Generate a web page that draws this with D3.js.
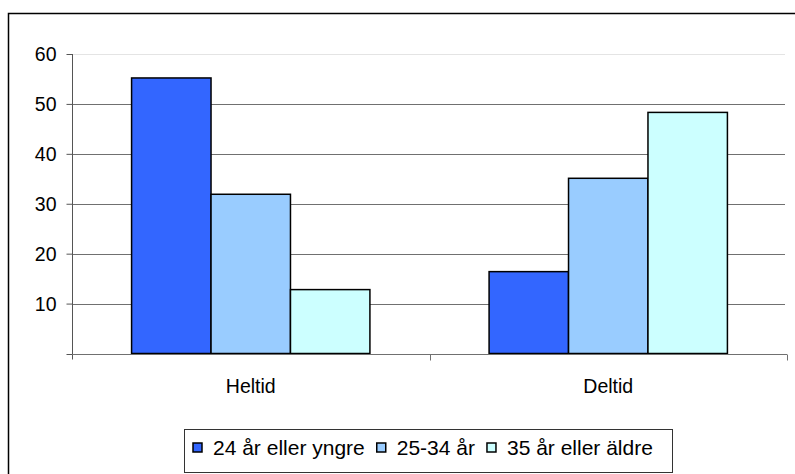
<!DOCTYPE html>
<meta charset="utf-8">
<style>
  html, body { margin: 0; background: #fff; overflow: hidden; }
  svg { display: block; }
  svg text { font-family: "Liberation Sans", Arial, sans-serif; fill: #000; }
</style>
<body>
<script src="https://cdn.jsdelivr.net/npm/d3@7"></script>
<script>
    var width = 795,
        height = 474;

    // data
    var categories = ["Heltid", "Deltid"];
    var series = ["24 år eller yngre", "25-34 år", "35 år eller äldre"];
    var young = [55.2, 16.4];
    var middle = [31.9, 35.1];
    var older = [12.8, 48.3];
    var yTicks = [10, 20, 30, 40, 50, 60];
    var colors = ["#3366ff", "#99ccff", "#ccffff"];

    var values = [young, middle, older];

    var plot = {left: 72, right: 787, top: 54, bottom: 353.5};

    var svg = d3.select("body").append("svg")
        .attr("width", width)
        .attr("height", height);

    // outer chart frame (right and bottom run off the picture)
    svg.append("rect")
        .attr("x", 8.5).attr("y", 13.5)
        .attr("width", 820).attr("height", 500)
        .attr("fill", "none")
        .attr("stroke", "#000")
        .attr("stroke-width", 1.5);

    var y = d3.scaleLinear().domain([0, 60]).range([plot.bottom, plot.top]);
    var x0 = d3.scaleBand().domain(categories).range([plot.left, plot.right]);
    // gap width 150%: band = 4.5 bar widths
    var bw = x0.bandwidth() / 4.5;
    var x1 = d3.scaleBand().domain(d3.range(series.length))
        .range([0.75 * bw, 3.75 * bw]);

    // gridlines
    svg.append("g")
        .selectAll("line")
        .data(yTicks)
        .enter().append("line")
        .attr("x1", plot.left).attr("x2", plot.right - 2)
        .attr("y1", d => Math.round(y(d)) + 0.5)
        .attr("y2", d => Math.round(y(d)) + 0.5)
        .attr("stroke", d => d === 60 ? "#e4e4e4" : "#707070")
        .attr("stroke-width", 1.2);

    // bars
    var groups = svg.append("g")
        .selectAll("g")
        .data(categories)
        .enter().append("g")
        .attr("transform", d => "translate(" + x0(d) + ",0)");

    groups.selectAll("rect")
        .data((c, i) => values.map((s, k) => ({k: k, v: s[i]})))
        .enter().append("rect")
        .attr("x", d => x1(d.k))
        .attr("width", x1.bandwidth())
        .attr("y", d => y(d.v))
        .attr("height", d => y(0) - y(d.v))
        .attr("fill", d => colors[d.k])
        .attr("stroke", "#000")
        .attr("stroke-width", 1.5);

    // y axis
    var yAxis = svg.append("g")
        .attr("transform", "translate(" + (plot.left + 0.5) + ",0)")
        .call(d3.axisLeft(y).tickValues(yTicks).tickSize(6).tickSizeOuter(0));
    yAxis.select(".domain").remove();
    yAxis.append("line")
        .attr("y1", y(60)).attr("y2", plot.bottom + 6)
        .attr("stroke", "#555");
    yAxis.append("line")
        .attr("x1", -6).attr("x2", 0)
        .attr("y1", Math.round(y(0)) + 0.5).attr("y2", Math.round(y(0)) + 0.5)
        .attr("stroke", "#555");
    yAxis.selectAll(".tick line").attr("stroke", "#555");
    yAxis.selectAll(".tick text")
        .attr("x", -16)
        .attr("dy", "0.34em")
        .style("font-size", "19.5px")
        .style("font-family", "Liberation Sans, Arial, sans-serif");

    // x axis
    var xAxis = svg.append("g")
        .attr("transform", "translate(0," + (Math.round(y(0)) + 0.5) + ")");
    xAxis.append("line")
        .attr("x1", plot.left).attr("x2", plot.right)
        .attr("stroke", "#707070").attr("stroke-width", 1.2);
    xAxis.selectAll(".sep")
        .data([plot.left + x0.bandwidth(), plot.right])
        .enter().append("line")
        .attr("x1", d => Math.round(d) + 0.5).attr("x2", d => Math.round(d) + 0.5)
        .attr("y1", 0).attr("y2", 6)
        .attr("stroke", "#707070");
    xAxis.selectAll("text")
        .data(categories)
        .enter().append("text")
        .attr("x", d => x0(d) + x0.bandwidth() / 2)
        .attr("y", 38.5)
        .attr("text-anchor", "middle")
        .style("font-size", "19.5px")
        .text(d => d);

    // legend
    var legend = svg.append("g");
    legend.append("rect")
        .attr("x", 184.5).attr("y", 429.5)
        .attr("width", 488).attr("height", 43)
        .attr("fill", "#fff")
        .attr("stroke", "#333")
        .attr("stroke-width", 1);

    var lx = 193;
    series.forEach(function (s, k) {
        legend.append("rect")
            .attr("x", lx).attr("y", 443)
            .attr("width", 9).attr("height", 9)
            .attr("fill", colors[k])
            .attr("stroke", "#000")
            .attr("stroke-width", 1.5);
        var t = legend.append("text")
            .attr("x", lx + 20)
            .attr("y", 455)
            .style("font-size", "21px")
            .text(s);
        lx += 20 + t.node().getComputedTextLength() + 12;
    });
</script>
</body>
